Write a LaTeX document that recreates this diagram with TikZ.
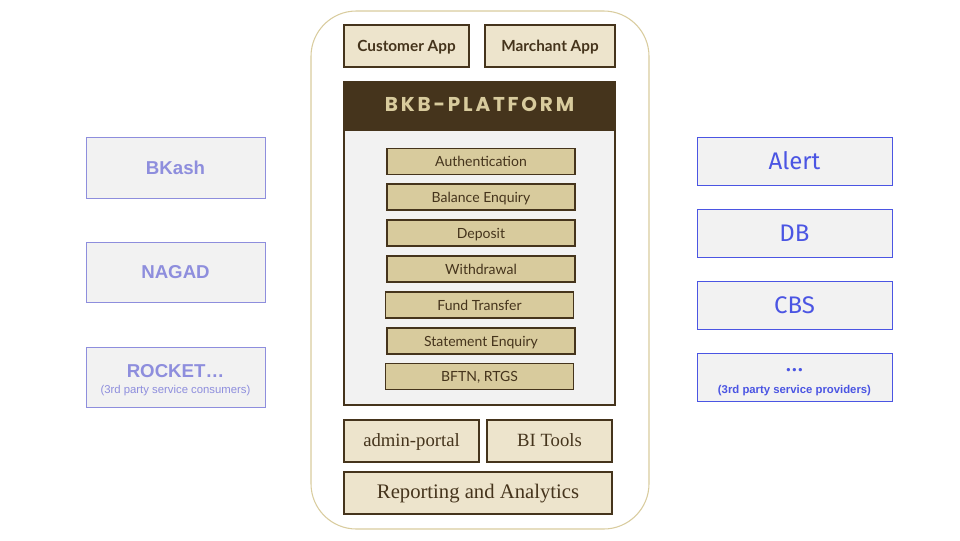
\documentclass[tikz,border=0pt]{standalone}
\usepackage{fontspec}
\usepackage{xcolor}
\usepackage{tikz}
\newfontfamily\appfont{Lato}
\newfontfamily\platfont[LetterSpace=14]{Poppins}
\newfontfamily\consfont{Liberation Sans}
\newfontfamily\provfont{Fira Sans}
\newfontfamily\toolfont{Liberation Serif}
\newcommand{\smallnote}{\consfont\mdseries\fontsize{8.5}{10}\selectfont}
\definecolor{brown}{HTML}{45341C}
\definecolor{cream}{HTML}{EDE4CC}
\definecolor{sand}{HTML}{D8CB9D}
\definecolor{frame}{HTML}{D9CC9E}
\definecolor{panel}{HTML}{F2F2F2}
\definecolor{lilac}{HTML}{8E8EDD}
\definecolor{royal}{HTML}{4B55E3}
\tikzset{
  box/.style={draw=brown, line width=0.8pt, inner sep=0pt, text=brown, text height=0.8em, text depth=0pt},
  app/.style={box, fill=cream, minimum height=31.5pt, font=\appfont\bfseries\fontsize{11.5}{13}\selectfont},
  svc/.style={box, fill=sand, minimum width=141pt, minimum height=19.5pt, font=\appfont\fontsize{10.5}{12}\selectfont},
  tool/.style={box, fill=cream, minimum height=31.5pt, font=\toolfont\fontsize{14}{15}\selectfont},
  cons/.style={draw=lilac, fill=panel, line width=0.7pt, inner sep=0pt, text=lilac,
    minimum width=134.25pt, minimum height=45pt, align=center, font=\consfont\bfseries\fontsize{14}{15}\selectfont},
  prov/.style={draw=royal, fill=panel, line width=0.7pt, inner sep=0pt, text=royal,
    minimum width=146.25pt, minimum height=36pt, align=center, font=\provfont\fontsize{18}{20}\selectfont},
}

\begin{document}
\begin{tikzpicture}[x=0.75pt, y=-0.75pt]
  \useasboundingbox (0,0) rectangle (960,540);
  \draw[draw=frame, fill=white, line width=0.8pt, rounded corners=34pt] (311,11) rectangle (649,529);

  \node[app, minimum width=93.75pt] (custapp) at (406.5,46) {Customer App};
  \node[app, minimum width=97.5pt] (merchapp) at (550,46) {Marchant App};

  \node[box, fill=brown, minimum width=203.25pt, minimum height=36pt, text=sand,
    font=\platfont\bfseries\fontsize{15}{16}\selectfont] (platform) at (479.5,106) {BKB-PLATFORM};
  \node[box, fill=panel, minimum width=203.25pt, minimum height=206.25pt] (core) at (479.5,267.5) {};

  \node[svc] (auth) at (481,161.5) {Authentication};
  \node[svc] (balance) at (481,197) {Balance Enquiry};
  \node[svc] (deposit) at (481,233) {Deposit};
  \node[svc] (withdraw) at (481,269) {Withdrawal};
  \node[svc] (transfer) at (479.5,305) {Fund Transfer};
  \node[svc] (statement) at (481,341) {Statement Enquiry};
  \node[svc] (bftn) at (479.5,376.5) {BFTN, RTGS};

  \node[tool, minimum width=101.25pt] (admin) at (411.5,441) {admin-portal};
  \node[tool, minimum width=93.75pt] (bitools) at (549.5,441) {BI Tools};
  \node[tool, minimum width=201pt, font=\toolfont\fontsize{15.5}{17}\selectfont] (report) at (478,493) {Reporting and Analytics};

  \node[cons, minimum height=45.75pt] (bkash) at (175.5,167.5) {BKash};
  \node[cons] (nagad) at (175.5,272) {NAGAD};
  \node[cons] (rocket) at (175.5,377) {\rule{0pt}{14pt}ROCKET\ldots\\[-3pt]{\smallnote (3rd party service consumers)}};

  \node[prov] (alert) at (794.5,161) {Alert};
  \node[prov] (db) at (794.5,233) {DB};
  \node[prov] (cbs) at (794.5,305) {CBS};
  \node[prov] (more) at (794.5,377) {\rule{0pt}{10pt}\ldots\\[-4pt]{\smallnote\bfseries (3rd party service providers)}};
\end{tikzpicture}
\end{document}
